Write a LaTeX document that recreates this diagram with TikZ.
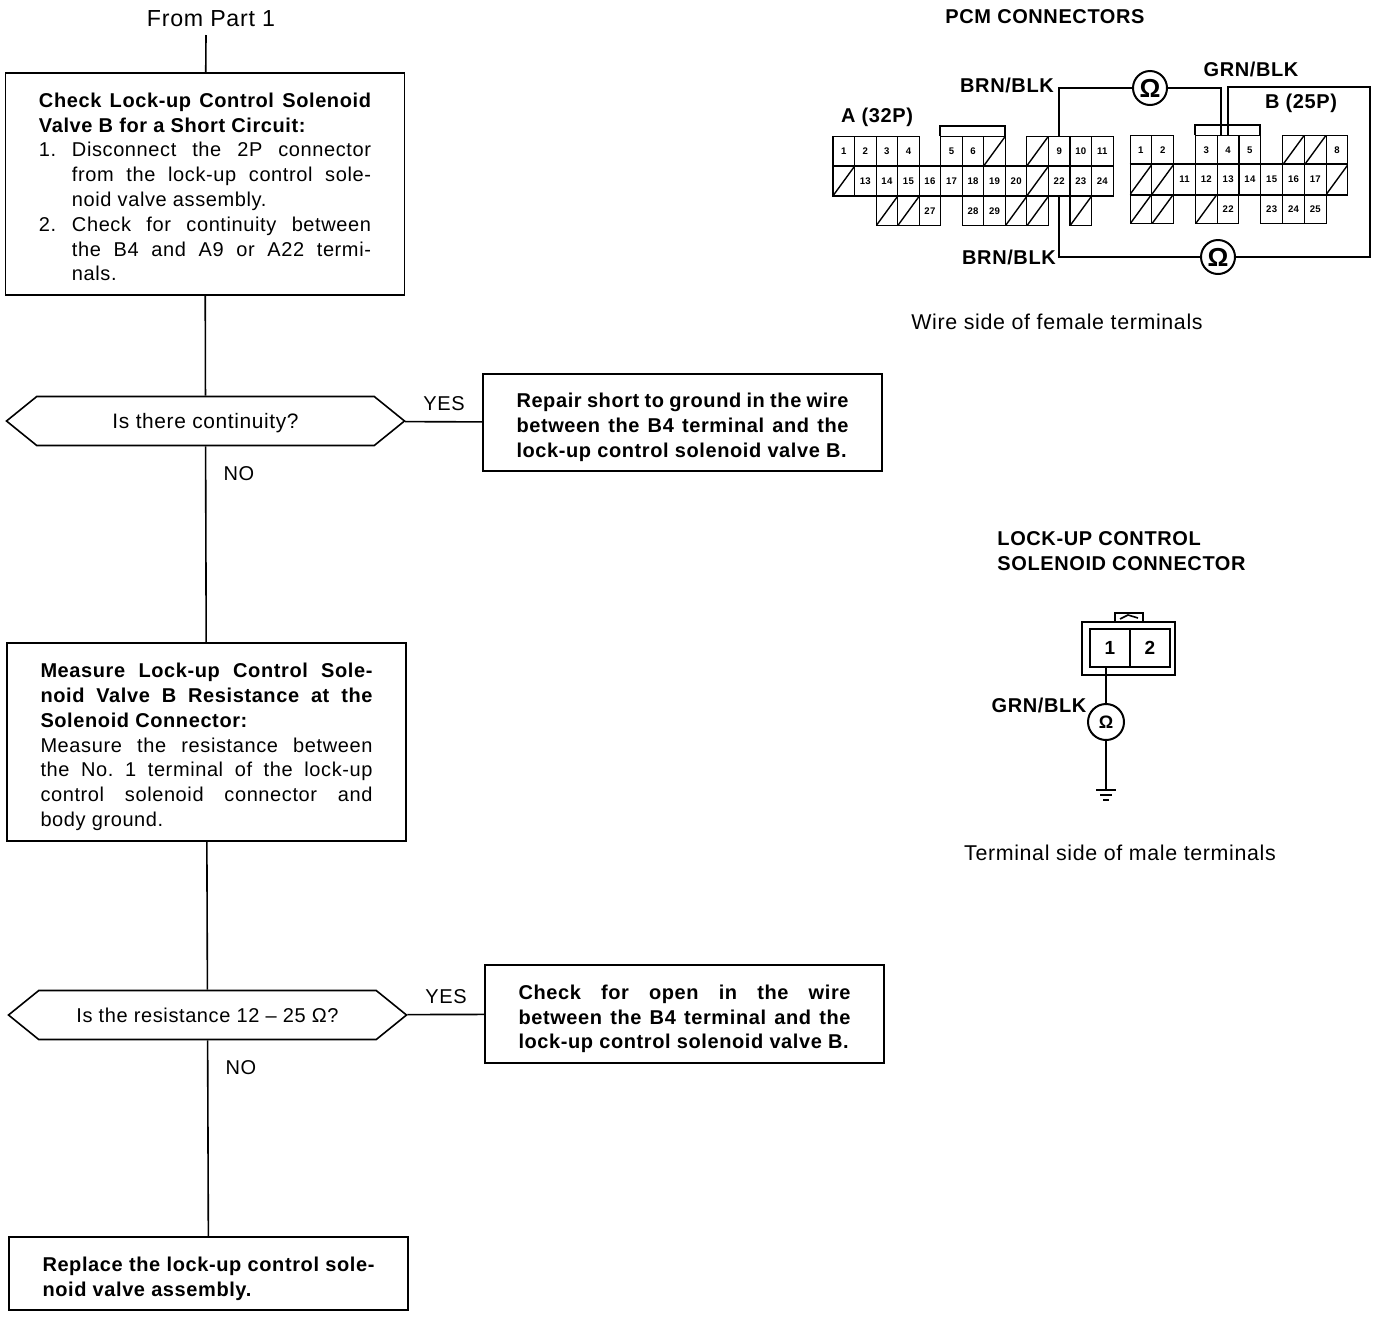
\documentclass[tikz,border=0pt]{standalone}
\usepackage{fontspec}
\setmainfont{Liberation Sans}[LetterSpace=3]
\usetikzlibrary{shapes.symbols}
\newcommand{\numline}[2]{\par\hangindent=16.5pt\hangafter=1\noindent\makebox[16.5pt][l]{#1}#2\par}
\begin{document}
\begin{tikzpicture}[x=0.5pt, y=-0.5pt, line width=0.8pt,
		bodyfont/.style = {font=\fontsize{10}{12.4}\selectfont},
		stepbox/.style = {draw, bodyfont, minimum width=199.5pt, text width=166pt, inner xsep=0pt, align=justify, execute at begin node={\rule{0pt}{#1}}},
		stepbox/.default = 12.2pt,
		testbox/.style = {draw, signal, signal to=east and west, signal pointer angle=78, font=\fontsize{10}{12}\selectfont, minimum width=199pt, minimum height=24.5pt, inner sep=0pt, text height=9.3pt, text depth=2pt},
		plain/.style = {bodyfont, inner sep=0pt},
		note/.style = {font=\fontsize{10.7}{12}\selectfont, inner sep=0pt},
		heading/.style = {font=\fontsize{10}{12.2}\selectfont\bfseries, inner sep=0pt},
		cell/.style = {draw, line width=0.55pt, minimum width=10.8pt, minimum height=14.8pt, inner sep=0pt, font=\fontsize{4.8}{5}\selectfont\bfseries},
		slashcell/.style = {cell, path picture={\draw[line width=0.7pt] (path picture bounding box.south west) -- (path picture bounding box.north east);}},
		wire/.style = {line width=1pt},
		band/.style = {line width=1pt},
		meter/.style = {draw, circle, fill=white, line width=1pt, minimum size=17pt, inner sep=0pt, font=\fontsize{13}{13}\selectfont\bfseries}]
	\useasboundingbox (0,0) rectangle (1392,1334);

	% flow chart
	\node[note, font=\fontsize{11.6}{12}\selectfont] (start) at (211,19) {From Part 1};
	\coordinate (startend) at (206,35);
	\node[stepbox=10.2pt, minimum height=111pt] (check) at (205,184) {\textbf{Check Lock-up Control Solenoid\linebreak Valve B for a Short Circuit:}\par
		\numline{1.}{Disconnect the 2P connector\linebreak from the lock-up control sole-\linebreak noid valve assembly.}
		\numline{2.}{Check for continuity between\linebreak the B4 and A9 or A22 termi-\linebreak nals.}};
	\node[testbox, font=\fontsize{10.45}{12}\selectfont] (contin) at (205.5,421) {Is there continuity?};
	\node[stepbox, minimum height=48.5pt] (repair) at (682.5,422.5) {\textbf{Repair short to ground in the wire\linebreak between the B4 terminal and the\linebreak lock-up control solenoid valve B.}};
	\node[stepbox, minimum height=99pt] (measure) at (206.5,742) {\textbf{Measure Lock-up Control Sole-\linebreak noid Valve B Resistance at the\linebreak Solenoid Connector:}\\ Measure the resistance between\linebreak the No.\ 1 terminal of the lock-up\linebreak control solenoid connector and\linebreak body ground.};
	\node[testbox] (resist) at (207.5,1015) {Is the resistance 12 – 25 Ω?};
	\node[stepbox, minimum height=49pt] (opencheck) at (684.5,1014) {\textbf{Check for open in the wire\linebreak between the B4 terminal and the\linebreak lock-up control solenoid valve B.}};
	\node[stepbox, minimum height=36.5pt] (replace) at (208.5,1273.5) {\textbf{Replace the lock-up control sole-\linebreak noid valve assembly.}};

	\node[plain] (yesa) at (444,404) {YES};
	\node[plain] (noa) at (239,474) {NO};
	\node[plain] (yesb) at (446,997) {YES};
	\node[plain] (nob) at (241,1068) {NO};

	\draw (startend) edge (check)
	(check) edge (contin)
	(contin) edge (repair)
	(contin) edge (measure)
	(measure) edge (resist)
	(resist) edge (opencheck)
	(resist) edge (replace);

	% PCM connectors
	\node[heading] (pcm) at (1045,17) {PCM CONNECTORS};
	\node[heading] (brnup) at (1007,85) {BRN/BLK};
	\node[heading] (grnup) at (1251,69) {GRN/BLK};
	\node[heading] (brndown) at (1009,257) {BRN/BLK};
	\node[heading] (namea) at (877,117) {A (32P)};
	\node[heading] (nameb) at (1301,103) {B (25P)};
	\node[note] (wireside) at (1057,322) {Wire side of female terminals};

	\foreach \c/\r/\t in {0/0/1,1/0/2,2/0/3,3/0/4,5/0/5,6/0/6,10/0/9,11/0/10,12/0/11,
		1/1/13,2/1/14,3/1/15,4/1/16,5/1/17,6/1/18,7/1/19,8/1/20,10/1/22,11/1/23,12/1/24,
		4/2/27,6/2/28,7/2/29}
		\node[cell] (a\t) at (843.8+21.54*\c,151+30*\r) {\t};
	\foreach \c/\r in {7/0,9/0,0/1,9/1,2/2,3/2,8/2,9/2,11/2}
		\node[slashcell] (as\c-\r) at (843.8+21.54*\c,151+30*\r) {};

	\foreach \c/\r/\t in {0/0/1,1/0/2,3/0/3,4/0/4,5/0/5,9/0/8,
		2/1/11,3/1/12,4/1/13,5/1/14,6/1/15,7/1/16,8/1/17,
		4/2/22,6/2/23,7/2/24,8/2/25}
		\node[cell] (b\t) at (1140.9+21.8*\c,150+29.5*\r) {\t};
	\foreach \c/\r in {7/0,8/0,0/1,1/1,9/1,0/2,1/2,3/2}
		\node[slashcell] (bs\c-\r) at (1140.9+21.8*\c,150+29.5*\r) {};

	\draw[band] (as0-1.north west) -- (a24.north east);
	\draw[band] (as0-1.south west) -- (a24.south east);
	\draw[band] (bs0-1.north west) -- (bs9-1.north east);
	\draw[band] (bs0-1.south west) -- (bs9-1.south east);

	\coordinate (acapl) at (940,136);
	\coordinate (acapr) at (1005,136);
	\coordinate (bcapl) at (1195,135);
	\coordinate (bcapr) at (1260,135);
	\draw (acapl) -- ++(0,-10) -| (acapr);
	\draw (bcapl) -- ++(0,-10) -| (bcapr);

	\node[meter] (ohma) at (1150,88) {Ω};
	\node[meter] (ohmb) at (1218,257) {Ω};
	\coordinate (bfourl) at (1221,135);
	\coordinate (bfourr) at (1228,135);
	\coordinate (cornerr) at (1370,87);

	\draw[wire] (a9.north) |- (ohma);
	\draw[wire] (ohma) -| (bfourl);
	\draw[wire] (bfourr) |- (cornerr) |- (ohmb);
	\draw[wire] (ohmb) -| (a22.south);

	% solenoid connector
	\node[heading] (solname) at (1121.5,553) {\begin{tabular}{@{}l@{}}LOCK-UP CONTROL\\SOLENOID CONNECTOR\end{tabular}};
	\node[heading] (grnlow) at (1039,705) {GRN/BLK};
	\node[note] (termside) at (1120,853) {Terminal side of male terminals};

	\node[draw, line width=0.6pt, minimum width=46.5pt, minimum height=26.5pt] (shell) at (1128.5,648.5) {};
	\draw[line width=0.8pt] (1115,622) -- (1115,613) -- (1143,613) -- (1143,622);
	\draw[line width=0.8pt] (1120,619) -- (1128,615) -- (1138,618);
	\begin{scope}[every node/.style={draw, line width=0.8pt, minimum width=20pt, minimum height=19pt, inner sep=0pt, font=\fontsize{9.5}{10}\selectfont\bfseries}]
		\node (pina) at (1110,648) {1};
		\node (pinb) at (1150,648) {2};
	\end{scope}
	\node[meter, minimum size=18pt, font=\fontsize{9}{9}\selectfont\bfseries] (ohmc) at (1106,722) {Ω};
	\coordinate (pinaout) at (1106,667);
	\coordinate (earth) at (1106,790);
	\coordinate (earthb) at (1106,795);
	\coordinate (earthc) at (1106,800);
	\draw[wire] (pinaout) -- (ohmc);
	\draw[wire] (ohmc) -- (earth);
	\draw[wire] (earth) +(-10,0) -- +(10,0);
	\draw (earthb) +(-6,0) -- +(6,0);
	\draw[wire] (earthc) +(-3,0) -- +(3,0);
\end{tikzpicture}
\end{document}
